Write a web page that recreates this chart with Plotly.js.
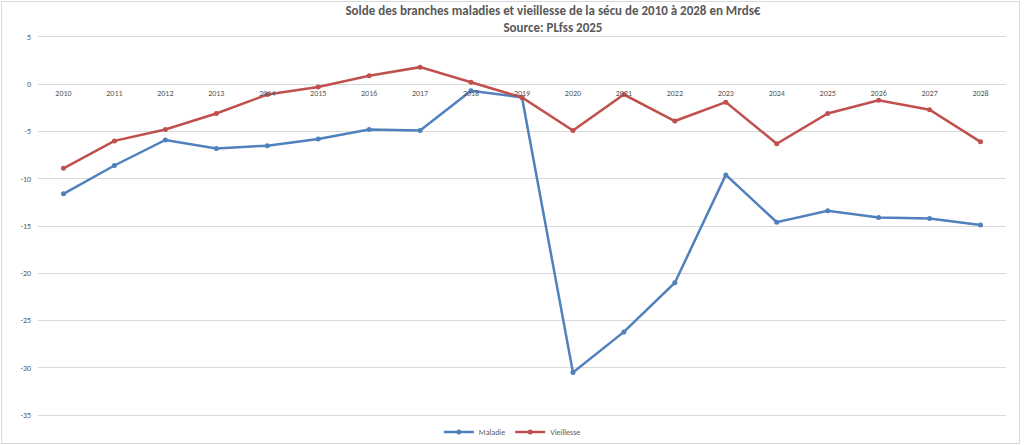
<!DOCTYPE html>
<html>
<head>
<meta charset="utf-8">
<script src="https://cdn.plot.ly/plotly-3.0.1.min.js"></script>
<style>
html,body{margin:0;padding:0;background:#fff;}
#frame{position:absolute;left:1px;top:1px;width:1017px;height:441px;border:1px solid #d9d9d9;}
#chart{position:absolute;left:0;top:0;width:1024px;height:445px;}
</style>
</head>
<body>
<div id="frame"></div>
<div id="chart"></div>
<script>
const years = ["2010","2011","2012","2013","2014","2015","2016","2017","2018","2019","2020","2021","2022","2023","2024","2025","2026","2027","2028"];
const maladie = [-11.6,-8.6,-5.9,-6.8,-6.5,-5.8,-4.8,-4.9,-0.7,-1.4,-30.5,-26.2,-21.0,-9.6,-14.6,-13.4,-14.1,-14.2,-14.9];
const vieillesse = [-8.9,-6.0,-4.8,-3.1,-1.1,-0.3,0.9,1.8,0.2,-1.4,-4.9,-1.1,-3.9,-1.9,-6.3,-3.1,-1.7,-2.7,-6.1];
const seriesNames = ["Maladie","Vieillesse"];
const yTicks = [5,0,-5,-10,-15,-20,-25,-30,-35];

const FONT = '"Liberation Sans Narrow", Carlito, Calibri, "Liberation Sans", sans-serif';
const yMin = -35.2, yMax = 5.2;

const traces = [
  {x: years, y: maladie, name: seriesNames[0], type: 'scatter', mode: 'lines+markers',
   line: {color: '#4F81BD', width: 2.5}, marker: {color: '#4F81BD', size: 5}},
  {x: years, y: vieillesse, name: seriesNames[1], type: 'scatter', mode: 'lines+markers',
   line: {color: '#C0504D', width: 2.5}, marker: {color: '#C0504D', size: 5}}
];

const layout = {
  width: 1024, height: 445,
  margin: {l: 37.5, r: 17.5, t: 35, b: 28, autoexpand: false},
  paper_bgcolor: 'rgba(0,0,0,0)', plot_bgcolor: 'rgba(0,0,0,0)',
  font: {family: FONT, color: '#595959', size: 8},
  title: {
    text: '<b>Solde des branches maladies et vieillesse de la sécu de 2010 à 2028 en Mrds€<br>Source: PLfss 2025</b>',
    font: {family: FONT, size: 13, color: '#595959'},
    xref: 'container', x: 0.54, xanchor: 'center',
    yref: 'container', y: 1 - 15 / 445, yanchor: 'middle'
  },
  xaxis: {
    type: 'category', range: [-0.5, years.length - 0.5],
    anchor: 'free', position: (0 - yMin) / (yMax - yMin),
    showgrid: false, zeroline: false, showline: false, ticks: '',
    ticklabelstandoff: 3,
    tickfont: {family: FONT, size: 8, color: '#595959'},
    fixedrange: true
  },
  yaxis: {
    range: [yMin, yMax], tickvals: yTicks, ticktext: yTicks.map(String),
    showgrid: true, gridcolor: '#d9d9d9', gridwidth: 1,
    zeroline: false, showline: false, ticks: '',
    ticklabelstandoff: 6,
    tickfont: {family: FONT, size: 8, color: '#595959'},
    fixedrange: true
  },
  showlegend: true,
  legend: {orientation: 'h', x: 0.49, xanchor: 'center', yref: 'container', y: 1 - 432 / 445, yanchor: 'middle',
           font: {family: FONT, size: 8, color: '#595959'}, itemwidth: 30, tracegroupgap: 0,
           bgcolor: 'rgba(0,0,0,0)'}
};

Plotly.newPlot('chart', traces, layout, {displayModeBar: false, staticPlot: true});
</script>
</body>
</html>
